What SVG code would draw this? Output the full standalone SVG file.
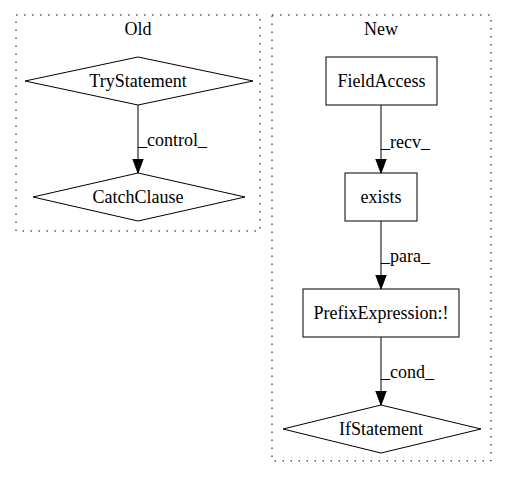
<svg xmlns="http://www.w3.org/2000/svg" width="507" height="480" viewBox="0 0 507 480">
<defs>
<marker id="arr" markerWidth="16" markerHeight="14" refX="14" refY="6" orient="auto" markerUnits="userSpaceOnUse"><path d="M0,0.8 L14,6 L0,11.2 Z" fill="#000" stroke="#000"/></marker>
</defs>
<style>
text{font-family:"Liberation Serif","Times New Roman",serif;font-size:18px;fill:#000}
.c{text-anchor:middle}
.cl{fill:none;stroke:#000;stroke-dasharray:1.5,6.5}
.n{fill:none;stroke:#000;stroke-width:1}
.e{stroke:#000;fill:none;marker-end:url(#arr)}
</style>
<rect width="507" height="480" fill="#fff"/>
<g id="cluster_old">
<rect class="cl" x="16" y="15" width="244" height="216"/>
<text class="c" x="138" y="35">Old</text>
</g>
<g id="cluster_new">
<rect class="cl" x="272" y="15" width="219" height="446"/>
<text class="c" x="381" y="35">New</text>
</g>
<g id="TryStatement">
<polygon class="n" points="138,57 253,81 138,105 25,81"/>
<text class="c" x="138" y="87">TryStatement</text>
</g>
<g id="CatchClause">
<polygon class="n" points="138,173 245,197 138,221 33,197"/>
<text class="c" x="138" y="203">CatchClause</text>
</g>
<g id="FieldAccess">
<rect class="n" x="326" y="57" width="111" height="48"/>
<text class="c" x="381.5" y="87">FieldAccess</text>
</g>
<g id="exists">
<rect class="n" x="345" y="173" width="72" height="48"/>
<text class="c" x="381" y="203">exists</text>
</g>
<g id="PrefixExpression">
<rect class="n" x="303" y="289" width="156" height="48"/>
<text class="c" x="381" y="319">PrefixExpression:!</text>
</g>
<g id="IfStatement">
<polygon class="n" points="381,405 481,429 381,453 283,429"/>
<text class="c" x="381" y="435">IfStatement</text>
</g>
<g id="edges">
<line class="e" x1="138" y1="105" x2="138" y2="173"/>
<text x="138" y="146">_control_</text>
<line class="e" x1="381" y1="105" x2="381" y2="173"/>
<text x="381" y="148">_recv_</text>
<line class="e" x1="381" y1="221" x2="381" y2="289"/>
<text x="381" y="262">_para_</text>
<line class="e" x1="381" y1="337" x2="381" y2="405"/>
<text x="381" y="378">_cond_</text>
</g>
</svg>
